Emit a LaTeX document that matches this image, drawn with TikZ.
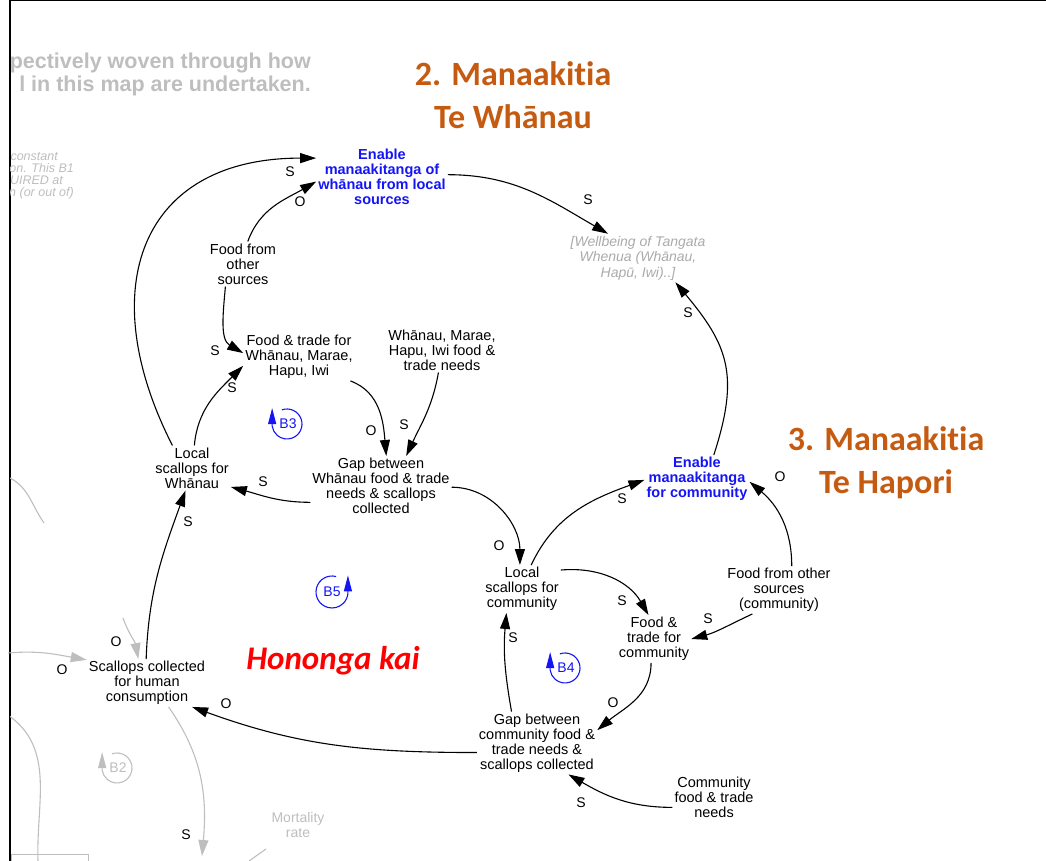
\documentclass[tikz,border=0pt]{standalone}
\usepackage{fontspec}
\setmainfont{Liberation Sans}
\newfontfamily\headfont[Ligatures=NoCommon,RawFeature={-liga;-clig;-calt;-dlig}]{Carlito}
\usepackage{tikz}
\usetikzlibrary{arrows.meta}

\definecolor{headorange}{RGB}{197,90,17}
\definecolor{goalblue}{RGB}{20,20,245}
\definecolor{fadegray}{RGB}{190,190,190}
\definecolor{notegray}{RGB}{170,170,170}

\begin{document}
\begin{tikzpicture}[x=1pt,y=1pt,
  var/.style={align=center,inner sep=2pt,font=\fontsize{14.5}{15}\selectfont},
  goal/.style={align=center,inner sep=2pt,text=goalblue,font=\bfseries\fontsize{14.5}{15}\selectfont},
  pol/.style={inner sep=0pt,font=\fontsize{14}{15}\selectfont},
  link/.style={-{Triangle[length=16pt,width=10pt]},line width=1.1pt},
  ghost/.style={fadegray,-{Triangle[length=16pt,width=10pt]},line width=1.1pt},
  loopc/.style={goalblue,line width=1.1pt,-{Triangle[length=16pt,width=8pt]}},
  heading/.style={text=headorange,align=center,font=\headfont\bfseries\fontsize{34}{43}\selectfont}]
%\draw[step=10,gray,very thin] (0,0) grid (1046,861);
\useasboundingbox (0,0) rectangle (1046,861);

% frame
\draw [line width=1.6pt] (10,0) -- (10,861);
\draw [line width=1pt] (10,860.5) -- (1046,860.5);

% faded parts of the bigger map, cut at the frame
\begin{scope}
\clip (10,0) rectangle (1046,861);
\node [anchor=east,align=right,inner sep=0pt,text=fadegray,font=\bfseries\fontsize{21.5}{23}\selectfont] (note) at (311,787) {pectively woven through how\\l in this map are undertaken.};
\node [anchor=east,inner sep=0pt,text=fadegray,font=\itshape\fontsize{12.5}{12}\selectfont] (b1a) at (58,704) {constant};
\node [anchor=east,inner sep=0pt,text=fadegray,font=\itshape\fontsize{12.5}{12}\selectfont] (b1b) at (74,693) {on. This B1};
\node [anchor=east,inner sep=0pt,text=fadegray,font=\itshape\fontsize{12.5}{12}\selectfont] (b1c) at (63,681) {UIRED at};
\node [anchor=east,inner sep=0pt,text=fadegray,font=\itshape\fontsize{12.5}{12}\selectfont] (b1d) at (74,668) {n (or out of)};

\coordinate (g0a) at (8,384);
\coordinate (g0b) at (44,338);
\coordinate (g1) at (8,208);
\coordinate (g2) at (123,243);
\coordinate (g3) at (202,5);
\coordinate (g4) at (8,146);
\coordinate (g5) at (38,0);
\coordinate (g6) at (266,12);
\coordinate (g7) at (249,0);
\draw [fadegray,line width=1.1pt] (g0a) to[out=-25,in=125] (g0b);
\draw [fadegray,line width=1.1pt] (g4) to[out=-35,in=92] (g5);
\draw [fadegray,line width=1.1pt] (g6) -- (g7);
\draw [fadegray,line width=1pt] (11,-3) rectangle (88,6);
\end{scope}

% headings
\node [heading] (h2) at (513,766) {2. Manaakitia\\Te Whānau};
\node [heading] (h3) at (886,398) {3. Manaakitia\\Te Hapori};
\node [text=red,font=\headfont\bfseries\itshape\fontsize{33}{40}\selectfont] (hk) at (333,200) {Hononga kai};

% variables
\node [goal] (enw) at (382,684) {Enable\\manaakitanga of\\whānau from local\\sources};
\node [var,text=notegray,font=\itshape\fontsize{14}{15.5}\selectfont] (wb) at (638,603) {[Wellbeing of Tangata\\Whenua (Whānau,\\Hapū, Iwi)..]};
\node [var] (fos) at (243,597) {Food from\\other\\sources};
\node [var] (ftw) at (299,504) {Food \& trade for\\Whānau, Marae,\\Hapu, Iwi};
\node [var] (wn) at (442,511) {Whānau, Marae,\\Hapu, Iwi food \&\\trade needs};
\node [var] (lsw) at (192,393) {Local\\scallops for\\Whānau};
\node [var] (gapw) at (381,375) {Gap between\\Whānau food \& trade\\needs \& scallops\\collected};
\node [goal] (enc) at (697,382) {Enable\\manaakitanga\\for community};
\node [var] (lsc) at (522,272) {Local\\scallops for\\community};
\node [var] (fosc) at (779,271) {Food from other\\sources\\(community)};
\node [var] (ftc) at (654,222) {Food \&\\trade for\\community};
\node [var] (scc) at (147,178) {Scallops collected\\for human\\consumption};
\node [var] (gapc) at (537,118) {Gap between\\community food \&\\trade needs \&\\scallops collected};
\node [var] (cn) at (714,64) {Community\\food \& trade\\needs};
\node [var,text=fadegray,font=\fontsize{14}{15}\selectfont] (mort) at (298,36) {Mortality\\rate};

% links
\draw [link] (lsw.131) to[out=117,in=180,looseness=1.4] (enw.164);   % S
\draw [link] (fos.78) to[out=70,in=210] (enw.184);                   % O
\draw [link] (fos.232) to[out=265,in=150] (ftw.176);                 % S
\draw [link] (lsw.84) to[out=85,in=225] (ftw.189);                   % S
\draw [link] (ftw.335) to[out=-20,in=95] (gapw.80);                  % O
\draw [link] (wn.261) to[out=260,in=65] (gapw.50);                   % S
\draw [link] (gapw.193) to[out=180,in=-15] (lsw.334);                % S
\draw [link] (enw.2) to[out=0,in=150] (wb.141);                      % S
\draw [link] (enc.55) to[out=72,in=-50,looseness=1.2] (wb.327);      % S
\draw [link] (gapw.359) to[out=0,in=90] (lsc.95);                    % O
\draw [link] (lsc.69) to[out=65,in=200] (enc.181);                   % S
\draw [link] (lsc.26) to[out=5,in=120] (ftc.103);                    % S
\draw [link] (fosc.62) to[out=90,in=-40] (enc.357);                  % O
\draw [link] (fosc.222) to[out=205,in=15] (ftc.0);                   % S
\draw [link] (ftc.263) to[out=270,in=40] (gapc.12);                  % O
\draw [link] (gapc.129) to[out=100,in=265] (lsc.237);                % S
\draw [link] (gapc.189) to[out=180,in=-20] (scc.332);                % O
\draw [link] (scc.92) to[out=88,in=250] (lsw.254);                   % S
\draw [link] (cn.194) to[out=180,in=330] (gapc.315);                 % S

% faded links
\draw [ghost] (g1) to[out=5,in=170] (scc.159);
\draw [ghost] (g2) to[out=-70,in=100] (scc.110);
\draw [ghost] (scc.312) to[out=-55,in=85] (g3);

% polarities
\node [pol] (p1) at (290,689) {S};
\node [pol] (p2) at (300,659) {O};
\node [pol] (p3) at (215,510) {S};
\node [pol] (p4) at (232,473) {S};
\node [pol] (p5) at (371,430) {O};
\node [pol] (p6) at (404,436) {S};
\node [pol] (p7) at (263,379) {S};
\node [pol] (p8) at (588,661) {S};
\node [pol] (p9) at (688,548) {S};
\node [pol] (p10) at (499,315) {O};
\node [pol] (p11) at (622,362) {S};
\node [pol] (p12) at (622,260) {S};
\node [pol] (p13) at (780,384) {O};
\node [pol] (p14) at (708,242) {S};
\node [pol] (p15) at (613,158) {O};
\node [pol] (p16) at (513,223) {S};
\node [pol] (p17) at (226,157) {O};
\node [pol] (p18) at (188,339) {S};
\node [pol] (p19) at (581,58) {S};
\node [pol] (p20) at (62,191) {O};
\node [pol] (p21) at (116,219) {O};
\node [pol] (p22) at (186,26) {S};

% loop markers
\draw [loopc] (287,437) ++(110:15) arc[start angle=110,end angle=-172,radius=15] -- ++(0,18);
\node [pol,text=goalblue] (b3) at (288,437) {B3};
\draw [loopc] (332,269) ++(75:16) arc[start angle=75,end angle=355,radius=16] -- ++(0,18);
\node [pol,text=goalblue] (b5) at (332,269) {B5};
\draw [loopc] (565,193) ++(110:15) arc[start angle=110,end angle=-172,radius=15] -- ++(0,18);
\node [pol,text=goalblue] (b4) at (566,193) {B4};
\draw [loopc,fadegray] (117,93) ++(110:15) arc[start angle=110,end angle=-172,radius=15] -- ++(0,18);
\node [pol,text=fadegray] (b2) at (118,93) {B2};
\end{tikzpicture}
\end{document}
